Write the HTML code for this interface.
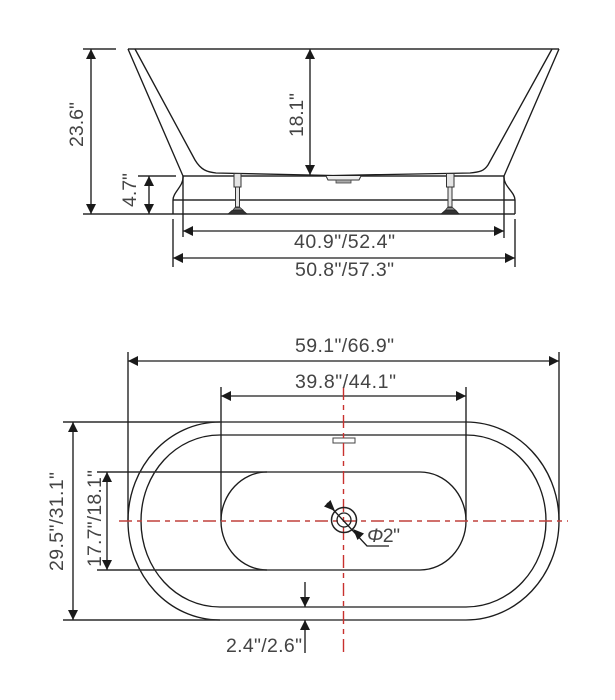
<!DOCTYPE html>
<html><head><meta charset="utf-8"><style>
html,body{margin:0;padding:0;background:#fff;width:615px;height:700px;overflow:hidden}
svg{display:block}
text{font-family:"Liberation Sans",sans-serif;font-size:19.5px;fill:#444}
.l{fill:none;stroke:#1c1c1c;stroke-width:1.35}
.g{fill:none;stroke:#2c2c2c;stroke-width:1.4}
.a{fill:#1a1a1a}
</style></head><body>
<svg width="615" height="700" viewBox="0 0 615 700" xmlns="http://www.w3.org/2000/svg">
<defs>
<path id="au" class="a" d="M0 0L-5 10L5 10Z"/>
<path id="ad" class="a" d="M0 0L-5 -10L5 -10Z"/>
<path id="al" class="a" d="M0 0L10 -5L10 5Z"/>
<path id="ar" class="a" d="M0 0L-10 -5L-10 5Z"/>
</defs>

<!-- Side view -->
<path class="g" d="M83 49H116M128 49H559M83 214H515M138 176H176M183 176H504M173 200H515"/>
<path class="l" d="M128 49L183 176C184 186 173 192 173 200V214M135 49L195 160C201 170 207 172 216 173L333 175.500L470 173C480 172 484 171 488 165L552 49M559 49L504 176C503 186 515 192 515 200V214"/>
<path class="l" d="M183 176V237M504 176V238M173 219V267M515 219V267"/>
<path class="l" d="M91 49V214M149 176V214M310 49V175M183 231H504M173 258H515"/>
<use href="#au" x="91" y="49"/><use href="#ad" x="91" y="214"/>
<use href="#au" x="149" y="176"/><use href="#ad" x="149" y="214"/>
<use href="#au" x="310" y="49"/><use href="#ad" x="310" y="175"/>
<use href="#al" x="183" y="231"/><use href="#ar" x="504" y="231"/>
<use href="#al" x="173" y="258"/><use href="#ar" x="515" y="258"/>
<!-- legs -->
<path d="M234 173.500H241V187H234ZM235.500 187H239.500V207H235.500Z" fill="#e4e4e4" stroke="#333"/>
<path d="M233 210L235 207.500H240L243 210Z" fill="#888" stroke="#333" stroke-width=".7"/>
<path d="M228 214L232 210.500H243L247 214Z" fill="#333" stroke="#222" stroke-width=".8"/>
<path d="M446.500 173.500H454V187H446.500ZM448 187H452V207H448Z" fill="#e4e4e4" stroke="#333"/>
<path d="M445.500 210L447.500 207.500H452.500L455.500 210Z" fill="#888" stroke="#333" stroke-width=".7"/>
<path d="M441 214L445 210.500H456L459 214Z" fill="#333" stroke="#222" stroke-width=".8"/>
<!-- drain -->
<path d="M326 176L328 180H359L361 176" fill="#eee" stroke="#333"/>
<rect x="336" y="180" width="15" height="3" fill="#aaa" stroke="#444" stroke-width=".8"/>

<text transform="translate(83,147) rotate(-90)" textLength="45">23.6"</text>
<text transform="translate(303,137) rotate(-90)" textLength="44">18.1"</text>
<text transform="translate(136,207) rotate(-90)" textLength="34">4.7"</text>
<text x="294" y="248" textLength="101">40.9"/52.4"</text>
<text x="295" y="276" textLength="99">50.8"/57.3"</text>

<!-- Top view -->
<path class="l" d="M220 422H466C517 422 559 466 559 521C559 576 517 620 466 620H220C169 620 128 576 128 521C128 466 169 422 220 422Z"/>
<path class="l" d="M220 435H466C510 435 546 473 546 521C546 569 510 607 466 607H220C176 607 141 569 141 521C141 473 176 435 220 435Z"/>
<path class="l" d="M267 472H420C445 472 466 494 466 521C466 548 445 570 420 570H267C242 570 221 548 221 521C221 494 242 472 267 472Z"/>
<path class="g" d="M63 422H220M63 620H220M97 472H267M97 570H267"/>
<path class="l" d="M128 352V521M559 352V521M221 387V521M466 387V521"/>
<path class="l" d="M128 361H559M221 396H466M73 422V620M107 472V570M305 582V607M305 620V653"/>
<use href="#al" x="128" y="361"/><use href="#ar" x="559" y="361"/>
<use href="#al" x="221" y="396"/><use href="#ar" x="466" y="396"/>
<use href="#au" x="73" y="422"/><use href="#ad" x="73" y="620"/>
<use href="#au" x="107" y="472"/><use href="#ad" x="107" y="570"/>
<use href="#ad" x="305" y="607"/><use href="#au" x="305" y="620"/>
<rect x="333" y="438" width="22" height="5" fill="#fff" stroke="#444"/>
<!-- centre lines -->
<path d="M119 521H568" fill="none" stroke="#c0403c" stroke-width="1.6" stroke-dasharray="13 5 5 5"/>
<path d="M343.500 387V655" fill="none" stroke="#c8302e" stroke-width="1.4" stroke-dasharray="13 5 5 5"/>
<!-- drain hole -->
<circle cx="344" cy="520" r="12.500" fill="none" stroke="#222" stroke-width="1.500"/>
<circle cx="344" cy="520" r="7" fill="none" stroke="#222" stroke-width="1.300"/>
<path class="l" d="M327 503L367 546H389"/>
<path class="a" d="M335 511L324 506.500L330.500 500Z"/>
<path class="a" d="M353 529L364 533.500L357.500 540Z"/>
<text x="367" y="542" textLength="33"><tspan font-style="italic">Φ</tspan>2"</text>

<text transform="translate(63,571) rotate(-90)" textLength="99">29.5"/31.1"</text>
<text transform="translate(101,567) rotate(-90)" textLength="97">17.7"/18.1"</text>
<text x="295" y="352" textLength="99">59.1"/66.9"</text>
<text x="295" y="388" textLength="101">39.8"/44.1"</text>
<text x="226" y="652" textLength="76">2.4"/2.6"</text>
</svg>
</body></html>
